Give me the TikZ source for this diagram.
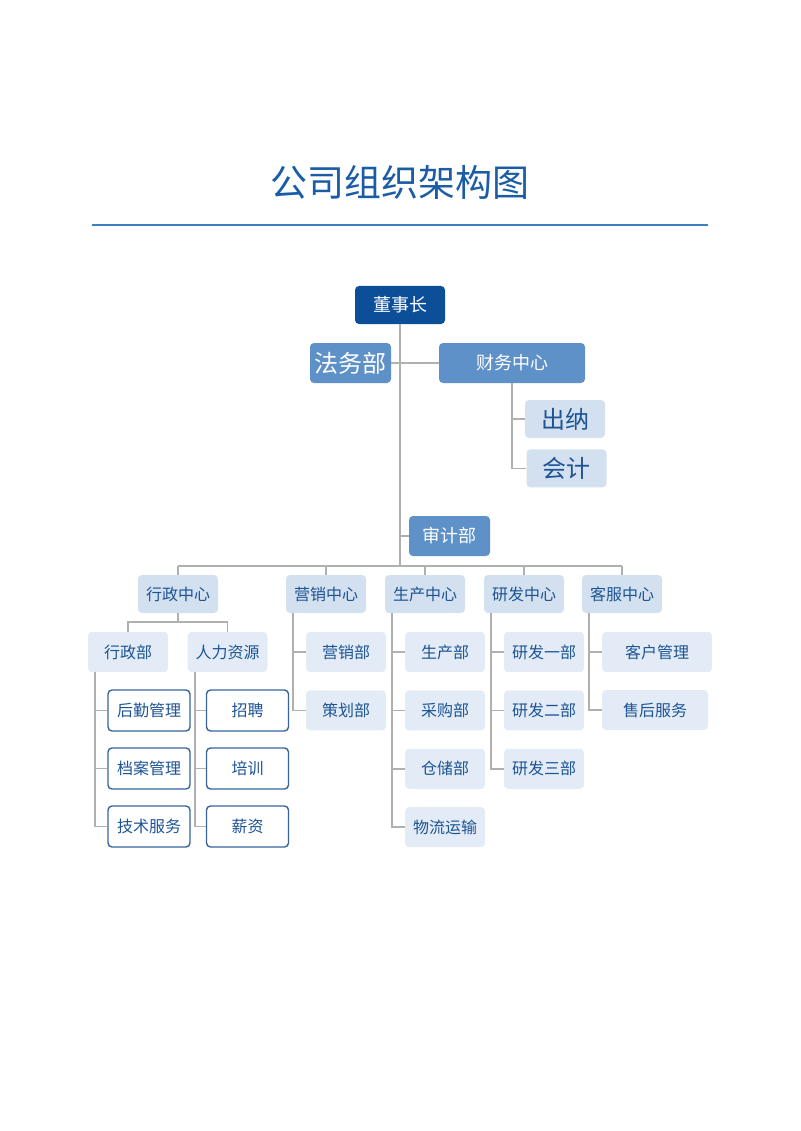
\documentclass[tikz,border=0pt]{standalone}
\usepackage{fontspec}
\setmainfont{Noto Sans CJK SC}
\usetikzlibrary{positioning, calc}
\definecolor{deepblue}{HTML}{0C4E98}
\definecolor{midblue}{HTML}{5E91C8}
\definecolor{paleblue}{HTML}{D2E0EF}
\definecolor{mistblue}{HTML}{E3ECF6}
\definecolor{inkblue}{HTML}{1D5494}
\definecolor{titleblue}{HTML}{1A5CA5}
\definecolor{ruleblue}{HTML}{3F7DC4}
\definecolor{rulegray}{HTML}{B0B0B0}

\begin{document}
\begin{tikzpicture}[x=1pt, y=-1pt, node distance=18pt,
          basebox/.style={rectangle, rounded corners=4pt, inner sep=0pt, minimum width=80pt, minimum height=39pt, font=\fontsize{16}{18}\selectfont},
          chairbox/.style={basebox, fill=deepblue, text=white, minimum width=90pt, minimum height=38pt, font=\fontsize{18}{20}\selectfont},
          midbox/.style={basebox, fill=midblue, text=white, minimum height=40pt, font=\fontsize{18}{20}\selectfont},
          centbox/.style={basebox, fill=paleblue, text=inkblue, minimum height=38pt},
          deptbox/.style={basebox, fill=mistblue, text=inkblue, minimum height=40pt},
          linebox/.style={basebox, fill=white, draw=inkblue!90, line width=1.4pt, text=inkblue, minimum width=82pt, minimum height=41pt},
          bigtext/.style={font=\fontsize{24}{26}\selectfont},
          link/.style={draw=rulegray, line width=1.7pt}]
        \useasboundingbox (0,0) rectangle (800,1131);
        \node [font=\fontsize{37}{40}\selectfont, text=titleblue] (title) at (400,182) {公司组织架构图};
        \draw [ruleblue, line width=1.1pt] (92,225) -- (708,225);

        \node [chairbox] (dsz) at (400,305) {董事长};
        \node [midbox, bigtext, minimum width=81pt] (fwb) at (350.5,363) {法务部};
        \node [midbox, minimum width=146pt] (cwzx) at (512,363) {财务中心};
        \node [centbox, bigtext] (cn) at (565,419) {出纳};
        \node [centbox, bigtext, below=11pt of cn, xshift=1.5pt] (kj) {会计};
        \node [midbox, minimum width=81pt] (sjb) at (449.5,536) {审计部};
        \coordinate (bus) at (400,566);

        \node [centbox] (xzzx) at (178,594) {行政中心};
        \node [centbox] (yxzx) at (326,594) {营销中心};
        \node [centbox] (sczx) at (425,594) {生产中心};
        \node [centbox] (yfzx) at (524,594) {研发中心};
        \node [centbox] (kfzx) at (622,594) {客服中心};

        \node [deptbox] (xzb) at (128,652) {行政部};
        \node [deptbox] (rlzy) at (227.5,652) {人力资源};
        \coordinate (split) at (178,622);
        \node [linebox] (hqgl) at (149,710.5) {后勤管理};
        \node [linebox, below=15.6pt of hqgl] (dagl) {档案管理};
        \node [linebox, below=15.6pt of dagl] (jsfw) {技术服务};
        \node [linebox] (zp) at (247.5,710.5) {招聘};
        \node [linebox, below=15.6pt of zp] (px) {培训};
        \node [linebox, below=15.6pt of px] (xz) {薪资};

        \node [deptbox] (yxb) at (346,652) {营销部};
        \node [deptbox, below=of yxb] (chb) {策划部};
        \node [deptbox] (scb) at (445,652) {生产部};
        \node [deptbox, below=of scb] (cgb) {采购部};
        \node [deptbox, below=of cgb] (ccb) {仓储部};
        \node [deptbox, below=of ccb] (wlys) {物流运输};
        \node [deptbox] (yfa) at (544,652) {研发一部};
        \node [deptbox, below=of yfa] (yfb) {研发二部};
        \node [deptbox, below=of yfb] (yfc) {研发三部};
        \node [deptbox, minimum width=110pt] (khgl) at (657,652) {客户管理};
        \node [deptbox, minimum width=106pt] (shfw) at (655,710) {售后服务};

        \draw [link] (dsz.south) -- (bus);
        \draw [link] (fwb.east) -- (cwzx.west);
        \draw [link] (sjb.west) -- (sjb.west -| dsz.south);
        \draw [link] (cwzx.south) |- (cn.west);
        \draw [link] (cwzx.south) |- (kj.west);
        \draw [link] (xzzx.north |- bus) -- (kfzx.north |- bus);
        \foreach \c in {xzzx, yxzx, sczx, yfzx, kfzx}
          \draw [link] (\c.north) -- (\c.north |- bus);
        \draw [link] (xzzx.south) -- (split);
        \draw [link] (xzb.north) |- (split);
        \draw [link] (rlzy.north) |- (split);
        \foreach \p/\c in {xzb/hqgl, xzb/dagl, xzb/jsfw, rlzy/zp, rlzy/px, rlzy/xz,
            yxzx/yxb, yxzx/chb, sczx/scb, sczx/cgb, sczx/ccb, sczx/wlys,
            yfzx/yfa, yfzx/yfb, yfzx/yfc, kfzx/khgl, kfzx/shfw}
          \draw [link] ($(\p.south west)+(7.5,0)$) |- (\c.west);
      \end{tikzpicture}
\end{document}
